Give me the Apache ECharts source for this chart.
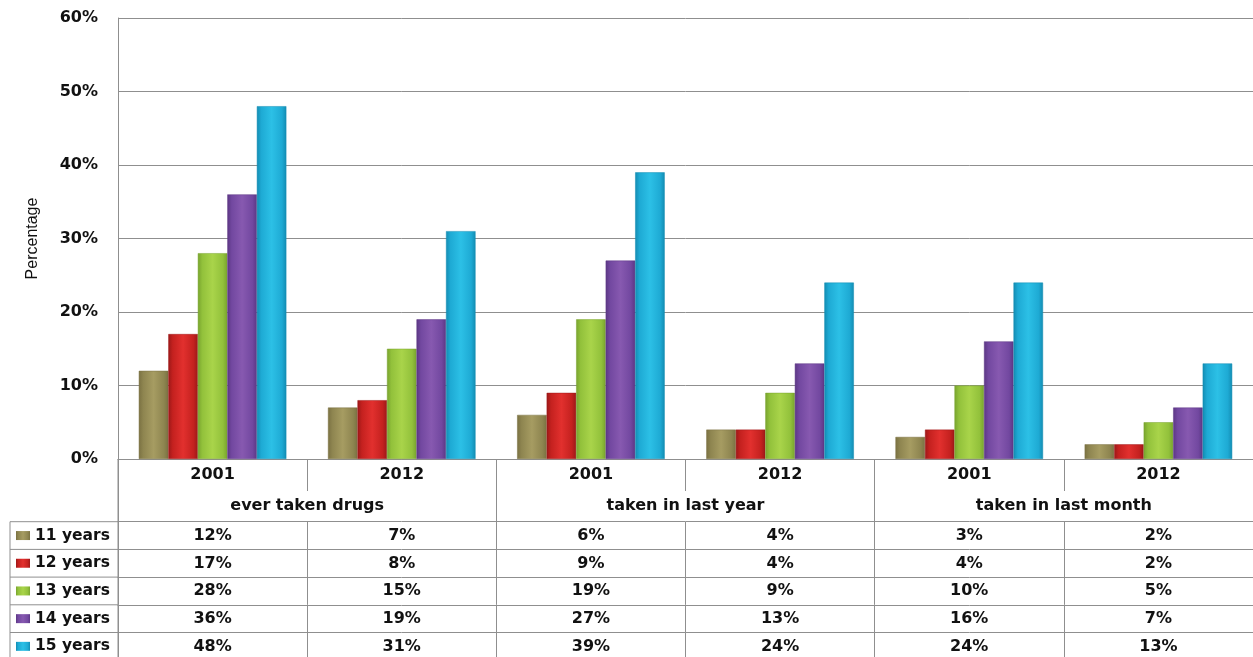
<!DOCTYPE html>
<html><head><meta charset="utf-8">
<script src="https://cdn.jsdelivr.net/npm/echarts@6/dist/echarts.min.js"></script>
<style>html,body{margin:0;padding:0;background:#fff}#c{width:1253px;height:657px}</style>
</head><body><div id="c"></div>
<script>
const years = ['2001','2012','2001','2012','2001','2012'];
const groups = ['ever taken drugs','taken in last year','taken in last month'];
const seriesNames = ['11 years','12 years','13 years','14 years','15 years'];
const age11 = [12, 7, 6, 4, 3, 2];
const age12 = [17, 8, 9, 4, 4, 2];
const age13 = [28, 15, 19, 9, 10, 5];
const age14 = [36, 19, 27, 13, 16, 7];
const age15 = [48, 31, 39, 24, 24, 13];
const yTicks = [0, 10, 20, 30, 40, 50, 60];

const values = [age11, age12, age13, age14, age15];
const colors = [
  ['#7a7142', '#a69c62', '#8e8550'],
  ['#9c1818', '#e2302e', '#c4211f'],
  ['#78a32e', '#a9d44a', '#92c13b'],
  ['#5c3784', '#8759b0', '#7248a0'],
  ['#138cb2', '#2cc0e6', '#1eaad4']
];
const fontB = 'DejaVu Sans';
const fs = 16;
const lineCol = '#8f8f8f';
const gridTop = 18, gridH = 441, base = gridTop + gridH;
const rowH = 27.7, headH = 62.7;

function grad(c) {
  return new echarts.graphic.LinearGradient(0, 0, 1, 0, [
    {offset: 0, color: c[0]}, {offset: 0.15, color: c[2]},
    {offset: 0.5, color: c[1]}, {offset: 0.85, color: c[2]}, {offset: 1, color: c[0]}
  ]);
}

const xAxes = [
  {
    type: 'category', data: years, position: 'bottom', gridIndex: 0,
    axisLine: {show: true, lineStyle: {color: lineCol}},
    axisTick: {show: true, interval: 0, length: 32, lineStyle: {color: lineCol}},
    axisLabel: {interval: 0, margin: 8, fontFamily: fontB, fontWeight: 'bold', fontSize: fs, color: '#111'}
  },
  {
    type: 'category', data: groups, position: 'bottom', gridIndex: 0,
    axisLine: {show: false},
    axisTick: {show: true, interval: 0, length: headH, lineStyle: {color: lineCol}},
    axisLabel: {interval: 0, margin: 39, fontFamily: fontB, fontWeight: 'bold', fontSize: fs, color: '#111'}
  }
];
values.forEach((arr, k) => {
  xAxes.push({
    type: 'category', data: arr.map(v => v + '%'), position: 'bottom', gridIndex: 0,
    offset: headH + rowH * k,
    axisLine: {show: true, lineStyle: {color: lineCol}},
    axisTick: {show: true, interval: 0, length: rowH, lineStyle: {color: lineCol}},
    axisLabel: {interval: 0, margin: 6, fontFamily: fontB, fontWeight: 'bold', fontSize: fs, color: '#111'}
  });
});

const graphics = [];
for (let k = 0; k < values.length; k++) {
  const y = base + headH + rowH * k;
  graphics.push({type: 'line', shape: {x1: 10, y1: y, x2: 118, y2: y}, style: {stroke: lineCol, lineWidth: 1}});
}
graphics.push({type: 'line', shape: {x1: 10, y1: base + headH, x2: 10, y2: 657}, style: {stroke: lineCol, lineWidth: 1}});
graphics.push({type: 'line', shape: {x1: 118, y1: base, x2: 118, y2: 657}, style: {stroke: lineCol, lineWidth: 1}});

const chart = echarts.init(document.getElementById('c'), null, {renderer: 'canvas'});
chart.setOption({
  animation: false,
  backgroundColor: '#fff',
  grid: {left: 118, right: 0, top: gridTop, height: gridH, containLabel: false},
  legend: {
    orient: 'vertical', left: 16, top: base + headH + (rowH - 18) / 2,
    padding: 0, height: 140,
    itemWidth: 14, itemHeight: 9, itemGap: rowH - 18,
    icon: 'rect',
    data: seriesNames,
    itemStyle: {borderWidth: 0},
    textStyle: {fontFamily: fontB, fontWeight: 'bold', fontSize: 15.5, color: '#111', lineHeight: 18},
    selectedMode: false
  },
  xAxis: xAxes,
  yAxis: {
    type: 'value', min: yTicks[0], max: yTicks[yTicks.length - 1], interval: 10,
    name: 'Percentage', nameLocation: 'middle', nameRotate: 90, nameGap: 77,
    nameTextStyle: {fontFamily: 'Liberation Sans', fontSize: 16, color: '#111'},
    axisLine: {show: true, lineStyle: {color: lineCol}},
    axisTick: {show: false},
    splitLine: {show: true, lineStyle: {color: lineCol, width: 1}},
    axisLabel: {margin: 20, formatter: '{value}%', fontFamily: fontB, fontWeight: 'bold', fontSize: fs, color: '#111'}
  },
  series: values.map((arr, i) => ({
    name: seriesNames[i], type: 'bar', xAxisIndex: 0, yAxisIndex: 0,
    data: arr, barGap: '0%', barCategoryGap: '22%',
    itemStyle: {color: grad(colors[i]), borderColor: colors[i][0], borderWidth: 0.5}
  })),
  color: colors.map(c => c[2]),
  graphic: graphics
});
</script></body></html>
